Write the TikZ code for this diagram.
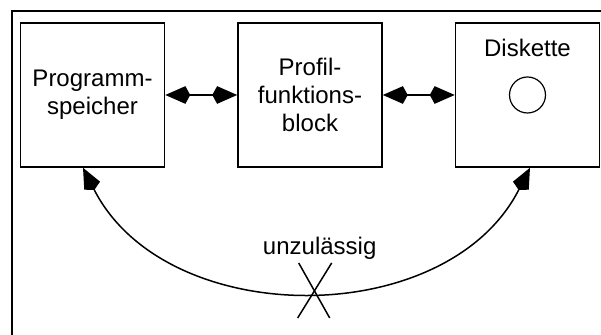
\documentclass[tikz,border=0pt]{standalone}
\usepackage{fontspec}
\setmainfont{Liberation Sans}
\usetikzlibrary{positioning,arrows.meta}

\begin{document}
\begin{tikzpicture}[x=0.5pt,y=0.5pt,
    schrift/.style={font=\fontsize{12}{14}\selectfont},
    block/.style={schrift,draw,line width=0.75pt,minimum width=72pt,minimum height=72pt,align=center,inner sep=0pt},
    pfeil/.style={line width=0.75pt,{Stealth[length=10pt,width=8.5pt,inset=-2.5pt]}-{Stealth[length=10pt,width=8.5pt,inset=-2.5pt]}}]
    \useasboundingbox (0,0) rectangle (601,335);
    \draw[line width=1pt] (12,0) |- (601,324);

    \node[block] (prog) at (92.5,240) {Programm-\\speicher};
    \node[block,right=36pt of prog] (prof) {Profil-\\funktions-\\block};
    \node[block,right=36pt of prof] (disk) {};
    \node[schrift] (disktext) at ([yshift=-13pt]disk.north) {Diskette};
    \node[draw,circle,line width=0.6pt,minimum size=18pt,inner sep=0pt] (scheibe) at (disk.center) {};

    \draw[pfeil] (prog) -- (prof);
    \draw[pfeil] (prof) -- (disk);
    \draw[pfeil] ([xshift=-4.75pt]prog.south) to[out=-63,in=-117,looseness=1.05] coordinate[pos=0.515] (mitte) ([xshift=1.25pt]disk.south);

    \draw[line width=0.75pt] (mitte) ++(-16,27) -- ++(31,-55);
    \draw[line width=0.75pt] (mitte) ++(17,27) -- ++(-34,-55);
    \node[schrift] (verbot) at ([xshift=2.5pt,yshift=21pt]mitte) {unzulässig};
\end{tikzpicture}
\end{document}
